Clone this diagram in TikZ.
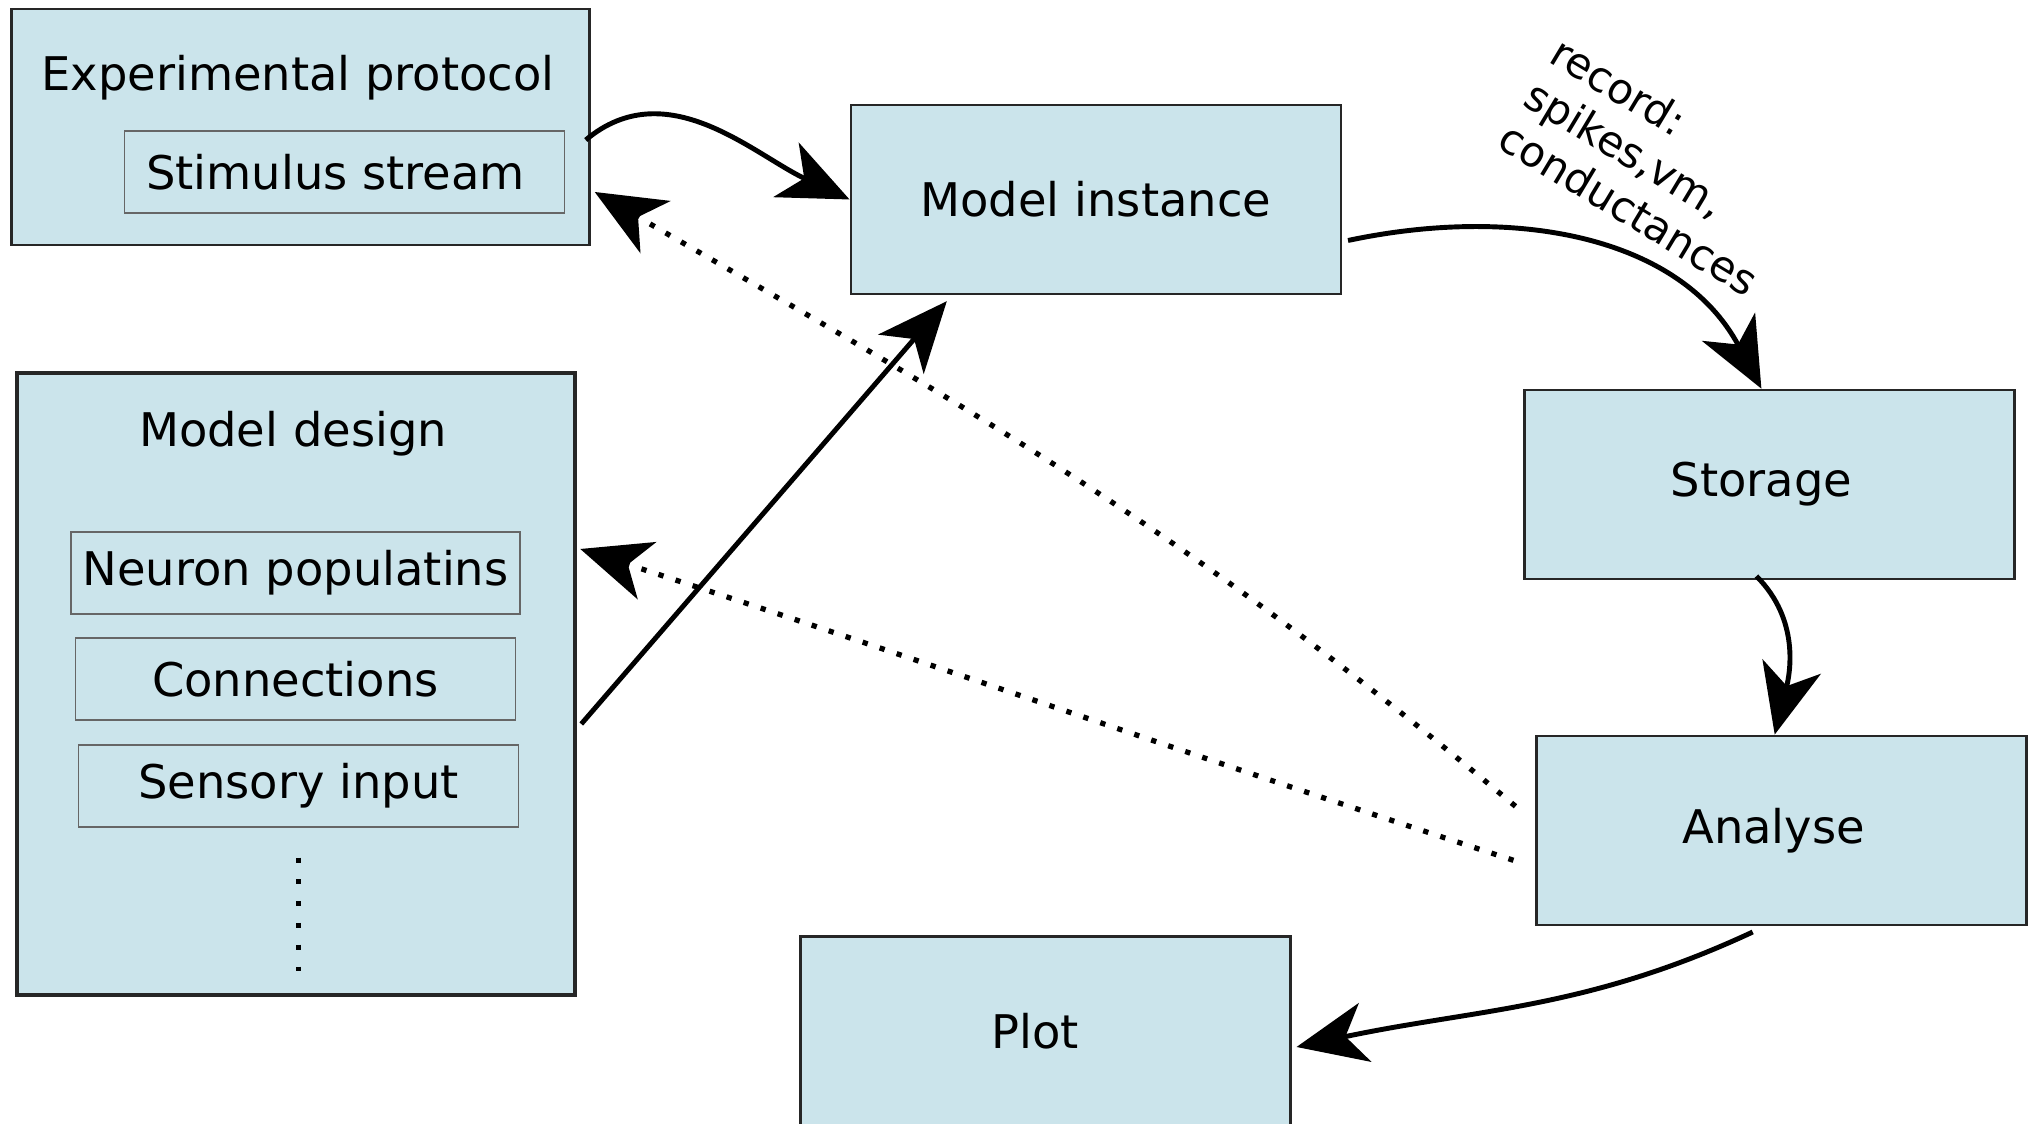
\documentclass[tikz,border=0pt]{standalone}
\usepackage{fontspec}
\setmainfont{DejaVu Sans}
\usetikzlibrary{arrows.meta, positioning}
\definecolor{boxfill}{RGB}{203,228,235}

\begin{document}
\begin{tikzpicture}[
  block/.style={rectangle, draw=black!85, fill=boxfill, line width=0.7pt,
    minimum width=4.9cm, minimum height=1.89cm, font=\fontsize{13.2}{15.8}\selectfont},
  subblock/.style={rectangle, draw=black!60, fill=boxfill, line width=0.5pt,
    minimum width=4.4cm, minimum height=0.82cm, font=\fontsize{13.2}{15.8}\selectfont},
  boxtitle/.style={inner sep=0pt, font=\fontsize{13.2}{15.8}\selectfont},
  edge/.style={-{Stealth[length=7mm, width=6mm, inset=2mm]}, line width=1.4pt},
  feedback/.style={edge, line width=1.5pt, dash pattern=on 1.5pt off 3.6pt}
]
\useasboundingbox (0,0) rectangle (20.31,-11.24);
\clip (0,0) rectangle (20.31,-11.24);

% protocol with its stimulus
\node[block, minimum width=5.78cm, minimum height=2.36cm] (proto) at (3.005,-1.27) {};
\node[boxtitle] (protoname) at (2.98,-0.78) {Experimental protocol};
\node[subblock] (stim) at (3.445,-1.72) {Stimulus stream\kern1.8mm};

% model design and its parts
\node[block, line width=1.3pt, minimum width=5.58cm, minimum height=6.22cm] (design) at (2.96,-6.84) {};
\node[boxtitle] (designname) at (2.93,-4.34) {Model design};
\node[subblock] (neuron) at (2.955,-5.732) {Neuron populatins};
\node[subblock, below=2.2mm of neuron] (conn) {Connections};
\node[subblock, below=2.3mm of conn, xshift=0.3mm] (sens) {Sensory input};
\draw[line width=1.4pt, dash pattern=on 1.4pt off 4.8pt]
  ([yshift=-3.0mm]sens.south) -- ([yshift=-14.4mm]sens.south);

% pipeline
\node[block] (inst) at (10.958,-1.995) {Model instance};
\node[block] (store) at (17.694,-4.844) {Storage\kern1.6mm};
\node[block] (anal) at (17.817,-8.303) {Analyse\kern1.6mm};
\node[block] (plot) at (10.453,-10.31) {Plot\kern2mm};

\node[inner sep=0pt, rotate=-31, align=left, font=\fontsize{12}{14.2}\selectfont]
  (rec) at (16.55,-1.66) {record:\\spikes,vm,\\conductances};

\draw[edge] ([xshift=-0.5mm, yshift=-1.3mm]proto.east) to[out=40, in=155] (inst.west);
\draw[edge] ([xshift=0.6mm, yshift=-4.1mm]inst.east) to[out=12, in=118] ([xshift=-0.8mm]store.north);
\draw[edge] ([xshift=-1.3mm, yshift=0.4mm]store.south) to[out=-45, in=76] ([xshift=-0.7mm]anal.north);
\draw[edge] ([xshift=-2.9mm, yshift=-0.6mm]anal.south) to[out=205, in=12] ([xshift=0.5mm, yshift=-1.6mm]plot.east);
\draw[edge] ([xshift=0.4mm, yshift=-4mm]design.east) -- ([xshift=-14.9mm, yshift=-0.6mm]inst.south);

% feedback from the analysis
\draw[feedback] ([xshift=-2mm, yshift=2.4mm]anal.west) to[out=140, in=-30] ([xshift=0.4mm, yshift=-6.5mm]proto.east);
\draw[feedback] ([xshift=-2.2mm, yshift=-3mm]anal.west) to[out=162, in=-18] ([xshift=0.3mm, yshift=13.5mm]design.east);
\end{tikzpicture}
\end{document}
